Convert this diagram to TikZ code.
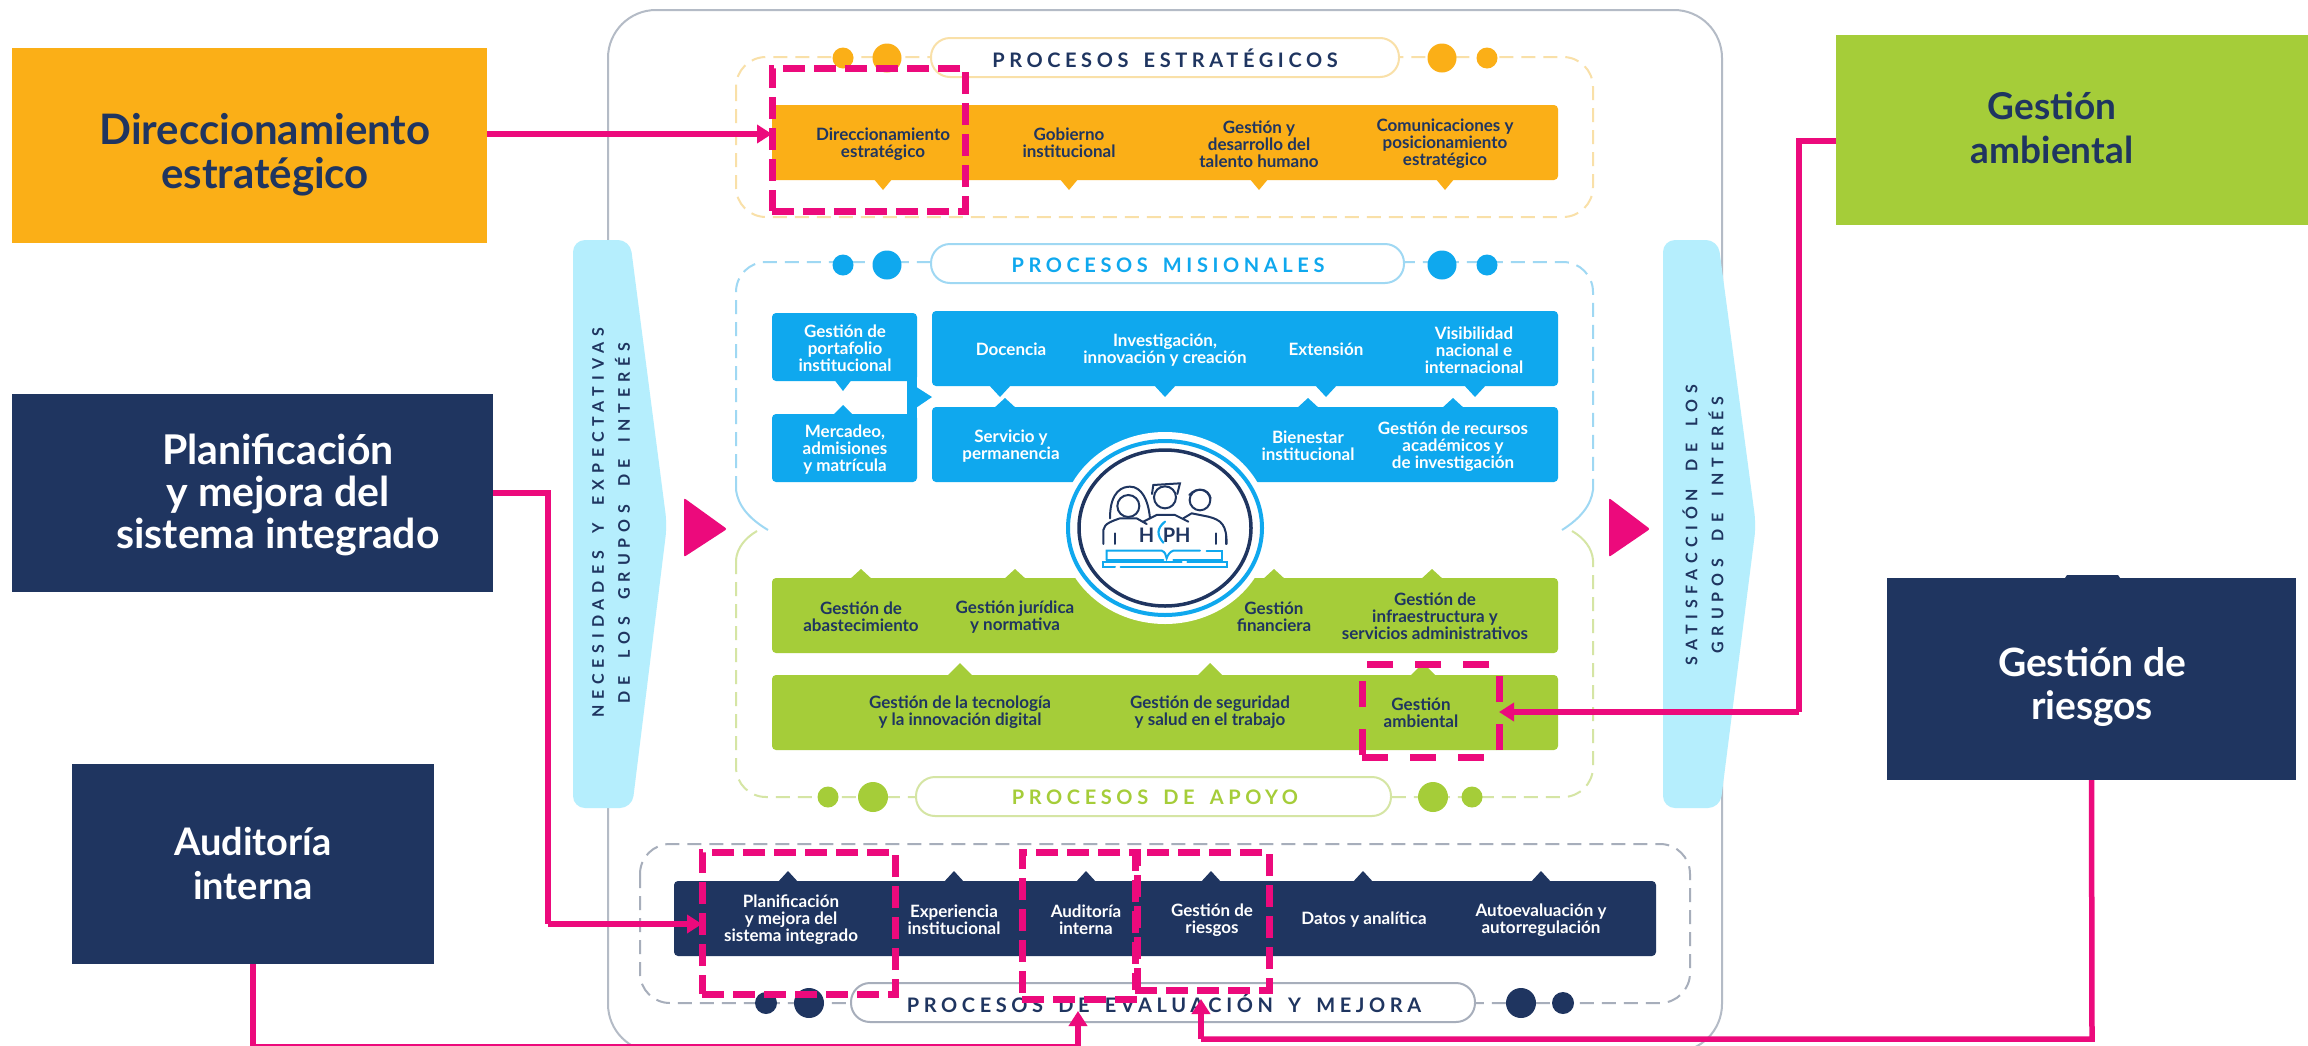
\documentclass[tikz,border=0pt]{standalone}
\usepackage{fontspec}
\setmainfont{Lato}
\newfontfamily\spaced[LetterSpace=23,WordSpace=1.6]{Lato}
\newfontfamily\spacedw[LetterSpace=37,WordSpace=1.8]{Lato}
\definecolor{pinkc}{HTML}{EC0A7C}
\definecolor{navyc}{HTML}{1F3560}
\definecolor{orangec}{HTML}{FBAF17}
\definecolor{bluec}{HTML}{0FA8EE}
\definecolor{greenc}{HTML}{A5CD39}
\definecolor{skyc}{HTML}{B5EEFD}
\definecolor{graylinec}{HTML}{B4BBC6}
\definecolor{orangedash}{HTML}{F9E0A8}
\definecolor{bluedash}{HTML}{9FD8F3}
\definecolor{greendash}{HTML}{D5E5A4}
\definecolor{graydash}{HTML}{A7AEBB}
\tikzset{
  bar/.style={rounded corners=4pt,anchor=north west,inner sep=0pt,outer sep=0pt,draw=none},
  bigbox/.style={anchor=north west,inner sep=0pt,outer sep=0pt,draw=none},
  lbl/.style={align=center,font=\fontsize{17}{17}\selectfont\bfseries,inner sep=0pt},
  biglbl/.style={align=center,inner sep=0pt},
  pinkarrow/.style={draw=pinkc,line width=5.5pt,-{Triangle[length=15pt,width=18pt]}},
  pinkline/.style={draw=pinkc,line width=5.5pt},
  pinkdash/.style={draw=pinkc,line width=7pt,dash pattern=on 22pt off 9pt,inner sep=0pt,outer sep=0pt,anchor=north west,fill=none},
  pill/.style={draw,line width=2pt,rounded corners=19pt,fill=white,inner sep=0pt,outer sep=0pt,anchor=north west},
  sect/.style={line width=2pt,dash pattern=on 14pt off 8pt,rounded corners=30pt},
  hook/.style={line width=2pt},
  head/.style={font=\fontsize{20}{20}\spaced\bfseries,inner sep=0pt},
  sidetxt/.style={rotate=90,align=center,text=navyc,font=\fontsize{16}{26}\spacedw\bfseries,inner sep=0pt},
  navyline/.style={draw=navyc,line width=2pt,line cap=round,fill=none},
  blueline/.style={draw=bluec,line width=2pt,line cap=round,fill=none},
}
\usetikzlibrary{arrows.meta}
\begin{document}
\begin{tikzpicture}[x=1pt,y=-1pt]
\useasboundingbox (0,0) rectangle (2308,1045);
\clip (0,0) rectangle (2308,1045);
\fill[white] (0,0) rectangle (2308,1045);

% outer frame
\draw[graylinec,line width=2pt,rounded corners=48pt] (608,10) rectangle (1722,1052);

% side arrows
\fill[skyc,rounded corners=12pt] (573,808) -- (573,240) -- (630,240) -- (667,525) -- (632,808) -- cycle;
\fill[skyc,rounded corners=12pt] (1663,808) -- (1663,240) -- (1718,240) -- (1756,525) -- (1720,808) -- cycle;
\fill[pinkc,rounded corners=2pt] (684,498) -- (727,529) -- (684,557) -- cycle;
\fill[pinkc,rounded corners=2pt] (1609,498) -- (1650,529) -- (1609,557) -- cycle;
\node[sidetxt] (nec) at (611,523) {NECESIDADES Y EXPECTATIVAS\\DE LOS GRUPOS DE INTERÉS};
\node[sidetxt] (sat) at (1703,525) {SATISFACCIÓN DE LOS\\GRUPOS DE INTERÉS};

% dashed section outlines
\draw[sect,orangedash] (736,57) rectangle (1593,217);
\draw[sect,bluedash] (736,490) -- (736,262) -- (1593,262) -- (1593,490);
\draw[hook,bluedash] (736,490) .. controls (738,505) and (748,518) .. (768,530);
\draw[hook,bluedash] (1593,490) .. controls (1591,505) and (1581,518) .. (1562,530);
\draw[sect,greendash] (736,560) -- (736,797) -- (1593,797) -- (1593,560);
\draw[hook,greendash] (736,560) .. controls (737,548) and (745,538) .. (757,531);
\draw[hook,greendash] (1593,560) .. controls (1592,548) and (1584,538) .. (1572,531);
\draw[sect,graydash] (640,844) rectangle (1690,1003);

% pills
\node[pill,draw=orangedash,minimum width=468pt,minimum height=39pt] (pest) at (931,38) {};
\node[pill,draw=bluedash,minimum width=473pt,minimum height=39pt] (pmis) at (931,244) {};
\node[pill,draw=greendash,minimum width=475pt,minimum height=39pt] (papo) at (916,777) {};
\node[pill,draw=graydash,minimum width=624pt,minimum height=39pt] (peva) at (851,983) {};
\node[head,text=navyc] (test) at (1165,58) {PROCESOS ESTRATÉGICOS};
\node[head,text=bluec] (tmis) at (1168,265) {PROCESOS MISIONALES};
\node[head,text=greenc] (tapo) at (1155,797) {PROCESOS DE APOYO};
\node[head,text=navyc] (teva) at (1164,1003) {PROCESOS DE EVALUACIÓN Y MEJORA};

% dots
\foreach \px/\r in {843/10.5,887/14.5,1442/14.5,1487/10.5} \fill[orangec] (\px,58) circle (\r);
\foreach \px/\r in {843/10.5,887/14.5,1442/14.5,1487/10.5} \fill[bluec] (\px,265) circle (\r);
\foreach \px/\r in {828/10.5,873/15,1433/15,1472/10.5} \fill[greenc] (\px,797) circle (\r);
\foreach \px/\r in {766/11,809/15,1521/15,1563/11} \fill[navyc] (\px,1003) circle (\r);

% orange bar
\foreach \px in {883,1069,1259,1445} \fill[orangec] (\px-10,178) -- (\px,190) -- (\px+10,178) -- cycle;
\node[bar,fill=orangec,minimum width=786pt,minimum height=75pt] (barO) at (772,105) {};

% blue
\fill[bluec] (907,381) -- (932,397) -- (907,414) -- cycle;
\fill[bluec] (907,375) rectangle (917,420);
\foreach \px in {843} \fill[bluec] (\px-10,378) -- (\px,391) -- (\px+10,378) -- cycle;
\foreach \px in {1000,1165,1326,1475} \fill[bluec] (\px-12,384) -- (\px,397) -- (\px+12,384) -- cycle;
\foreach \px in {843} \fill[bluec] (\px-11,416) -- (\px,405) -- (\px+11,416) -- cycle;
\foreach \px in {1005,1308,1453} \fill[bluec] (\px-12,409) -- (\px,398) -- (\px+12,409) -- cycle;
\node[bar,fill=bluec,minimum width=145pt,minimum height=68pt] (barBa) at (772,313) {};
\node[bar,fill=bluec,minimum width=626pt,minimum height=75pt] (barBb) at (932,311) {};
\node[bar,fill=bluec,minimum width=145pt,minimum height=68pt] (barBc) at (772,414) {};
\node[bar,fill=bluec,minimum width=626pt,minimum height=75pt] (barBd) at (932,407) {};

% green
\foreach \px in {861,1015,1274,1432} \fill[greenc] (\px-12,580) -- (\px,569) -- (\px+12,580) -- cycle;
\foreach \px in {960,1210,1423} \fill[greenc] (\px-14,677) -- (\px,663) -- (\px+14,677) -- cycle;
\node[bar,fill=greenc,minimum width=786pt,minimum height=75pt] (barGa) at (772,578) {};
\node[bar,fill=greenc,minimum width=786pt,minimum height=75pt] (barGb) at (772,675) {};

% navy
\foreach \px in {788,954,1086,1211,1363,1541} \fill[navyc] (\px-11,883) -- (\px,871) -- (\px+11,883) -- cycle;
\node[bar,fill=navyc,minimum width=982pt,minimum height=75pt] (barN) at (674,881) {};

% central emblem
\fill[white] (1165,528) ellipse (105 and 96);
\draw[bluec,line width=4pt] (1165,528) ellipse (97 and 87);
\draw[navyc,line width=3.5pt] (1165,528) ellipse (86 and 78);
\begin{scope}[shift={(1000,420)},x=.3333pt,y=-.3333pt]
  \draw[navyline] (385,258) circle (33);
  \draw[navyline] (495,232) circle (33);
  \draw[navyline] (600,240) circle (31);
  \draw[navyline] (330,295) .. controls (330,210) and (370,200) .. (390,200) .. controls (425,200) and (445,240) .. (450,295);
  \draw[navyline] (456,222) -- (460,195) -- (540,190) -- (532,222);
  \draw[navyline] (568,225) .. controls (590,200) and (625,205) .. (632,235);
  \draw[navyline] (310,372) -- (310,330) .. controls (312,310) and (340,302) .. (360,295) -- (410,295) -- (440,312);
  \draw[navyline] (430,305) -- (470,285) -- (525,285) -- (565,305);
  \draw[navyline] (550,295) -- (575,280) -- (625,290) .. controls (665,300) and (680,315) .. (680,372);
  \draw[navyline] (345,340) -- (345,372);
  \draw[navyline] (648,340) -- (648,372);
  \draw[navyline] (678,340) -- (678,372);
  \node[inner sep=0pt,text=navyc,font=\fontsize{20}{20}\selectfont\bfseries] (iconH) at (440,347) {H};
  \node[inner sep=0pt,text=navyc,font=\fontsize{20}{20}\selectfont\bfseries] (iconPH) at (530,347) {PH};
  \draw[blueline,line width=2.2pt] (495,305) .. controls (470,325) and (470,345) .. (490,368);
  \draw[blueline] (320,420) -- (320,392) -- (485,392) .. controls (495,395) and (498,405) .. (500,415) .. controls (503,405) and (510,395) .. (520,392) -- (600,392);
  \draw[blueline] (620,392) -- (665,392) -- (665,420) -- (520,420);
  \draw[blueline] (490,420) -- (320,420);
  \draw[blueline] (545,426) -- (310,426) -- (310,442) -- (345,442);
  \draw[blueline] (362,442) -- (680,442) -- (680,426) -- (562,426);
\end{scope}

% bar labels
\node[lbl,text=navyc] (l1) at (883,144) {Direccionamiento\\estratégico};
\node[lbl,text=navyc] (l2) at (1069,143) {Gobierno\\institucional};
\node[lbl,text=navyc] (l3) at (1259,144) {Gestión y\\desarrollo del\\talento humano};
\node[lbl,text=navyc] (l4) at (1445,144) {Comunicaciones y\\posicionamiento\\estratégico};
\node[lbl,text=white] (l5) at (845,348) {Gestión de\\portafolio\\institucional};
\node[lbl,text=white] (l6) at (1011,349) {Docencia};
\node[lbl,text=white] (l7) at (1165,350) {Investigación,\\innovación y creación};
\node[lbl,text=white] (l8) at (1326,349) {Extensión};
\node[lbl,text=white] (l9) at (1474,350) {Visibilidad\\nacional e\\internacional};
\node[lbl,text=white] (l10) at (845,450) {Mercadeo,\\admisiones\\y matrícula};
\node[lbl,text=white] (l11) at (1011,446) {Servicio y\\permanencia};
\node[lbl,text=white] (l12) at (1308,446) {Bienestar\\institucional};
\node[lbl,text=white] (l13) at (1453,447) {Gestión de recursos\\académicos y\\de investigación};
\node[lbl,text=navyc] (l14) at (861,617) {Gestión de\\abastecimiento};
\node[lbl,text=navyc] (l15) at (1015,617) {Gestión jurídica\\y normativa};
\node[lbl,text=navyc] (l16) at (1274,617) {Gestión\\financiera};
\node[lbl,text=navyc] (l17) at (1435,616) {Gestión de\\infraestructura y\\servicios administrativos};
\node[lbl,text=navyc] (l18) at (960,712) {Gestión de la tecnología\\y la innovación digital};
\node[lbl,text=navyc] (l19) at (1210,712) {Gestión de seguridad\\y salud en el trabajo};
\node[lbl,text=navyc] (l20) at (1421,713) {Gestión\\ambiental};
\node[lbl,text=white] (l21) at (791,920) {Planificación\\y mejora del\\sistema integrado};
\node[lbl,text=white] (l22) at (954,920) {Experiencia\\institucional};
\node[lbl,text=white] (l23) at (1086,920) {Auditoría\\interna};
\node[lbl,text=white] (l24) at (1212,920) {Gestión de\\riesgos};
\node[lbl,text=white] (l25) at (1364,920) {Datos y analítica};
\node[lbl,text=white] (l26) at (1541,920) {Autoevaluación y\\autorregulación};

% big side boxes
\node[bigbox,fill=orangec,minimum width=475pt,minimum height=195pt] (bDir) at (12,48) {};
\node[bigbox,fill=navyc,minimum width=481pt,minimum height=198pt] (bPla) at (12,394) {};
\node[bigbox,fill=navyc,minimum width=362pt,minimum height=200pt] (bAud) at (72,764) {};
\node[bigbox,fill=greenc,minimum width=472pt,minimum height=190pt] (bAmb) at (1836,35) {};
\fill[navyc] (2065,578) -- (2067,575) -- (2118,575) -- (2120,578) -- cycle;
\node[bigbox,fill=navyc,minimum width=409pt,minimum height=202pt] (bRie) at (1887,578) {};
\node[biglbl,text=navyc,font=\fontsize{42}{44}\selectfont\bfseries] (tDir) at (265,155) {Direccionamiento\\estratégico};
\node[biglbl,text=white,font=\fontsize{41}{42}\selectfont\bfseries] (tPla) at (278,495) {Planificación\\y mejora del\\sistema integrado};
\node[biglbl,text=white,font=\fontsize{38}{44}\selectfont\bfseries] (tAud) at (253,864) {Auditoría\\interna};
\node[biglbl,text=navyc,font=\fontsize{37}{44}\selectfont\bfseries] (tAmb) at (2052,128) {Gestión\\ambiental};
\node[biglbl,text=white,font=\fontsize{39}{43}\selectfont\bfseries] (tRie) at (2092,687) {Gestión de\\riesgos};

% dashed highlight rectangles
\node[pinkdash,minimum width=193pt,minimum height=143pt] (hDir) at (772,68) {};
\node[pinkdash,minimum width=137pt,minimum height=93pt,dash pattern=on 26pt off 22pt] (hAmb) at (1362,664) {};
\node[pinkdash,minimum width=193pt,minimum height=142pt] (hPla) at (702,852) {};
\node[pinkdash,minimum width=115pt,minimum height=147pt] (hAud) at (1022,852) {};
\node[pinkdash,minimum width=134pt,minimum height=138pt] (hRie) at (1135,852) {};

% connectors
\coordinate (cAud) at (1078,1011);
\coordinate (cRie) at (1201,999);
\coordinate (jAud) at (253,1046.5);
\coordinate (jAud2) at (1078,1046.5);
\coordinate (jRie) at (2092,1039);
\coordinate (jRie2) at (1201,1039);
\draw[pinkarrow] (bDir.east |- 0,134) -- (hDir.west |- 0,134);
\draw[pinkline] (bAmb.west |- 0,141) -- (1799,141) -- (1799,712);
\draw[pinkarrow] (1799,712) -- (hAmb.east |- 0,712);
\draw[pinkline] (bPla.east) -- (548,493) -- (548,924);
\draw[pinkarrow] (548,924) -- (hPla.west |- 0,924);
\draw[pinkline] (bAud.south) -- (jAud) -- (jAud2);
\draw[pinkarrow] (jAud2) -- (cAud);
\draw[pinkline] (bRie.south) -- (jRie) -- (jRie2);
\draw[pinkarrow] (jRie2) -- (cRie);
\end{tikzpicture}
\end{document}
